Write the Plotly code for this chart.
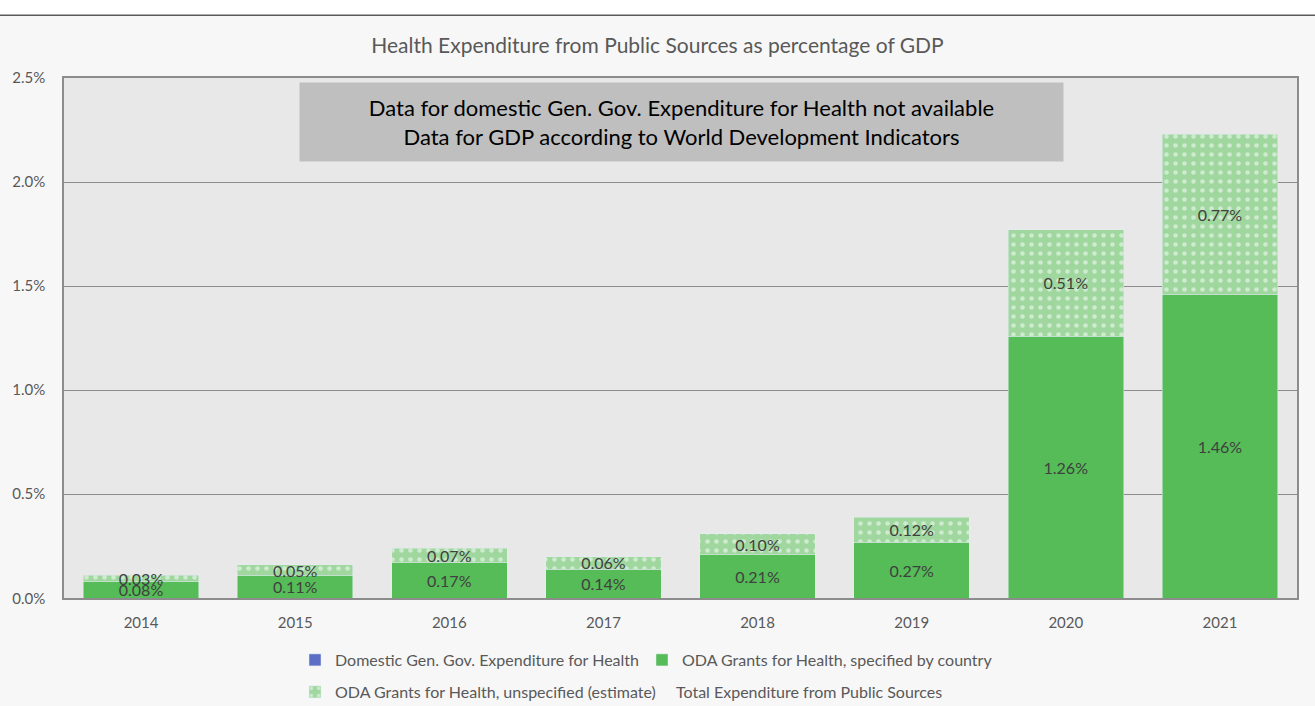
import plotly.graph_objects as go

years = ["2014", "2015", "2016", "2017", "2018", "2019", "2020", "2021"]
domestic = [None, None, None, None, None, None, None, None]
oda_specified = [0.08, 0.11, 0.17, 0.14, 0.21, 0.27, 1.26, 1.46]
oda_unspecified = [0.03, 0.05, 0.07, 0.06, 0.10, 0.12, 0.51, 0.77]
total = [s + u for s, u in zip(oda_specified, oda_unspecified)]

FONT = "Lato"
GREY = "#595959"

fig = go.Figure()

fig.add_trace(go.Bar(
    x=years, y=domestic,
    name="Domestic Gen. Gov. Expenditure for Health",
    marker_color="#5b70c4",
    legend="legend"
))

fig.add_trace(go.Bar(
    x=years, y=oda_specified,
    name="ODA Grants for Health, specified by country",
    marker_color="#55bc57",
    texttemplate="%{y:.2f}%",
    textposition="inside",
    insidetextanchor="middle",
    textfont=dict(color="#404040", size=16, family=FONT),
    legend="legend2"
))

fig.add_trace(go.Bar(
    x=years, y=oda_unspecified,
    name="ODA Grants for Health, unspecified (estimate)",
    marker=dict(
        color="#a3d9a3",
        pattern=dict(shape=".", fgcolor="white", bgcolor="#9fd79f",
                     size=9, solidity=0.2)
    ),
    texttemplate="%{y:.2f}%",
    textposition="inside",
    insidetextanchor="middle",
    textfont=dict(color="#404040", size=16, family=FONT),
    legend="legend3"
))

fig.add_trace(go.Scatter(
    x=years, y=total,
    name="Total Expenditure from Public Sources",
    mode="lines",
    line=dict(color="rgba(0,0,0,0)", width=0),
    hoverinfo="skip",
    legend="legend4"
))

# header: white strip above a dark rule
fig.add_shape(type="rect", xref="paper", yref="paper",
              x0=-0.06, x1=1.02, y0=1.1205, y1=1.16,
              fillcolor="white", line_width=0, layer="below")
fig.add_shape(type="line", xref="paper", yref="paper",
              x0=-0.06, x1=1.02, y0=1.1205, y1=1.1205,
              line=dict(color="#595959", width=1.5))

fig.add_annotation(
    xref="paper", yref="paper", x=0.5012, y=0.916,
    xanchor="center", yanchor="middle",
    text="Data for domestic Gen. Gov. Expenditure for Health not available<br>"
         "Data for GDP according to World Development Indicators",
    showarrow=False, bgcolor="#bfbfbf", width=763, height=78, borderpad=0,
    font=dict(family=FONT, size=22, color="black")
)

leg = dict(orientation="h", xanchor="left", yanchor="middle",
           xref="container", yref="container",
           bgcolor="rgba(0,0,0,0)", font=dict(size=16, color=GREY, family=FONT),
           itemwidth=30)

fig.update_layout(
    barmode="stack",
    bargap=0.25,
    width=1315, height=706,
    margin=dict(l=60, r=18, t=78, b=105),
    paper_bgcolor="#f7f7f7",
    plot_bgcolor="#e8e8e8",
    font=dict(family=FONT, size=15, color=GREY),
    title=dict(text="Health Expenditure from Public Sources as percentage of GDP",
               x=0.5, xanchor="center", y=0.936, yanchor="middle",
               font=dict(size=21, color=GREY, family=FONT)),
    uniformtext=dict(minsize=16, mode="show"),
    legend=dict(leg, x=295 / 1315, y=1 - 660 / 706),
    legend2=dict(leg, x=642 / 1315, y=1 - 660 / 706),
    legend3=dict(leg, x=295 / 1315, y=1 - 692 / 706),
    legend4=dict(leg, x=636 / 1315, y=1 - 692 / 706),
    showlegend=True
)

fig.update_xaxes(showline=True, mirror=True, linecolor="#8c8c8c", linewidth=1.5,
                 ticks="", ticklabelstandoff=10, tickfont=dict(size=15, color=GREY))
fig.update_yaxes(range=[0, 2.5], dtick=0.5, tickformat=".1f", ticksuffix="%",
                 showgrid=True, gridcolor="#8c8c8c", gridwidth=1,
                 showline=True, mirror=True, linecolor="#8c8c8c", linewidth=1.5,
                 zeroline=False, ticks="", ticklabelstandoff=14,
                 tickfont=dict(size=15, color=GREY))

fig.write_html("out.html", config={"displayModeBar": False},
               post_script="document.body.style.margin='0';")
